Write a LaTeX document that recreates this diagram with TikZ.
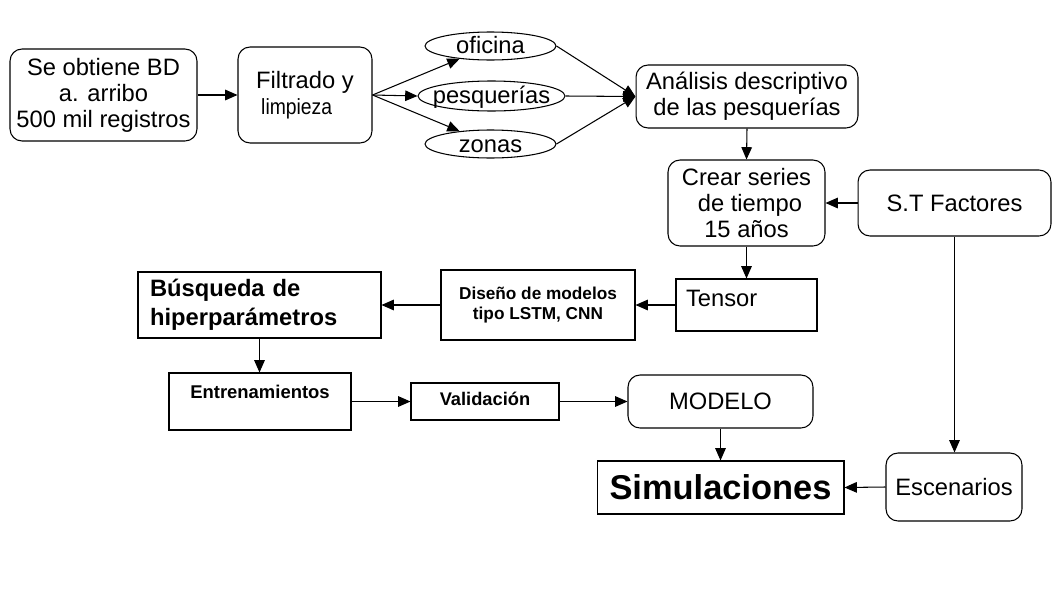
\documentclass[tikz,border=0pt]{standalone}
\usepackage{fontspec}
\setmainfont{Liberation Sans}
\usetikzlibrary{arrows.meta, shapes.geometric}

\newcommand\mainfs{\fontsize{13.5}{14.8}\selectfont}
\newcommand\smallbf{\fontsize{9.8}{11.4}\selectfont\bfseries}
\newcommand\ovtext[1]{\makebox[0pt]{#1}}

\tikzset{
rbox/.style={draw, rounded corners=0.24cm, align=center, inner sep=0pt, font=\mainfs},
sbox/.style={draw, align=center, inner sep=0pt, font=\mainfs},
oval/.style={draw, ellipse, inner sep=0pt, font=\mainfs, text height=0.32cm, text depth=0cm},
}

\begin{document}
\begin{tikzpicture}[>={Triangle[length=7pt,width=6pt]}, x=0.02cm, y=-0.02cm, semithick]

\useasboundingbox (0,0) rectangle (1058,595);

\node[rbox, minimum width=3.74cm, minimum height=1.84cm] (obt) at (103.5,95) {Se obtiene BD\\a. arribo\\500 mil registros};
\node[rbox, align=left, minimum width=2.68cm, minimum height=1.92cm] (filt) at (305,95) {Filtrado y\\\hspace*{0.1cm}{\fontsize{12.5}{13}\selectfont\addfontfeature{FakeStretch=0.88}limpieza}};

\node[oval, minimum width=2.62cm, minimum height=0.56cm] (ofi) at (490.5,46) {\ovtext{oficina}};
\node[oval, minimum width=2.94cm, minimum height=0.60cm] (pes) at (491.5,96) {\ovtext{pesquerías}};
\node[oval, minimum width=2.62cm, minimum height=0.56cm] (zon) at (490.5,144) {\ovtext{zonas}};

\node[rbox, minimum width=4.44cm, minimum height=1.26cm] (ana) at (747,96.5) {Análisis descriptivo\\de las pesquerías};
\node[rbox, minimum width=3.14cm, minimum height=1.72cm] (cre) at (746.5,203) {Crear series\\\hspace*{0.14cm}de tiempo\\15 años};
\node[rbox, minimum width=3.86cm, minimum height=1.32cm] (stf) at (954.5,203) {S.T Factores};

\node[sbox, align=left, text width=2.42cm, inner xsep=0.2cm, minimum height=1.04cm, text height=0.34cm, text depth=0.3cm] (ten) at (746.5,305) {Tensor};
\node[sbox, font=\smallbf, minimum width=3.88cm, minimum height=1.4cm] (dis) at (538,305) {Diseño de modelos\\tipo LSTM, CNN};
\node[sbox, font=\fontsize{13.5}{16.5}\selectfont\bfseries, align=left, text width=4.38cm, inner xsep=0.24cm, minimum height=1.32cm] (bus) at (259.5,305) {Búsqueda de\\hiperparámetros};

\node[sbox, font=\fontsize{10.5}{12}\selectfont\bfseries, minimum width=3.64cm, minimum height=1.14cm, text height=0.3cm, text depth=0.44cm] (ent) at (260,401.5) {Entrenamientos};
\node[sbox, font=\fontsize{10.4}{12}\selectfont\bfseries, minimum width=2.96cm, minimum height=0.74cm, text height=0.26cm, text depth=0.12cm] (val) at (485,401.5) {Validación};
\node[rbox, minimum width=3.7cm, minimum height=1.06cm] (mod) at (720.5,401.5) {MODELO};

\node[sbox, font=\fontsize{19.6}{22}\selectfont\bfseries, minimum width=4.94cm, minimum height=1.06cm] (sim) at (720.5,487.5) {Simulaciones};
\node[rbox, minimum width=2.72cm, minimum height=1.36cm] (esc) at (954,487) {Escenarios};

%datos
\draw[->] (obt.east) -- (filt.west);
\draw[->] (filt.east) -- (ofi);
\draw[->] (filt.east) -- (pes.west);
\draw[->] (filt.east) -- (zon);
\draw[->] (ofi.east) -- (ana.west);
\draw[->] (pes.east) -- (ana.west);
\draw[->] (zon.east) -- (ana.west);

%series
\draw[->] (ana.south) -- (cre.north);
\draw[->] (stf.west) -- (cre.east);
\draw[->] (cre.south) -- (ten.north);

%modelos
\draw[->] (ten.west) -- (dis.east);
\draw[->] (dis.west) -- (bus.east);
\draw[->] (bus.south) -- (bus.south |- ent.north);
\draw[->] (ent.east) -- (val.west);
\draw[->] (val.east) -- (mod.west);

%simulacion
\draw[->] (mod.south) -- (sim.north);
\draw[->] (stf.south) -- (stf.south |- esc.north);
\draw[->] (esc.west) -- (sim.east);

\end{tikzpicture}
\end{document}
